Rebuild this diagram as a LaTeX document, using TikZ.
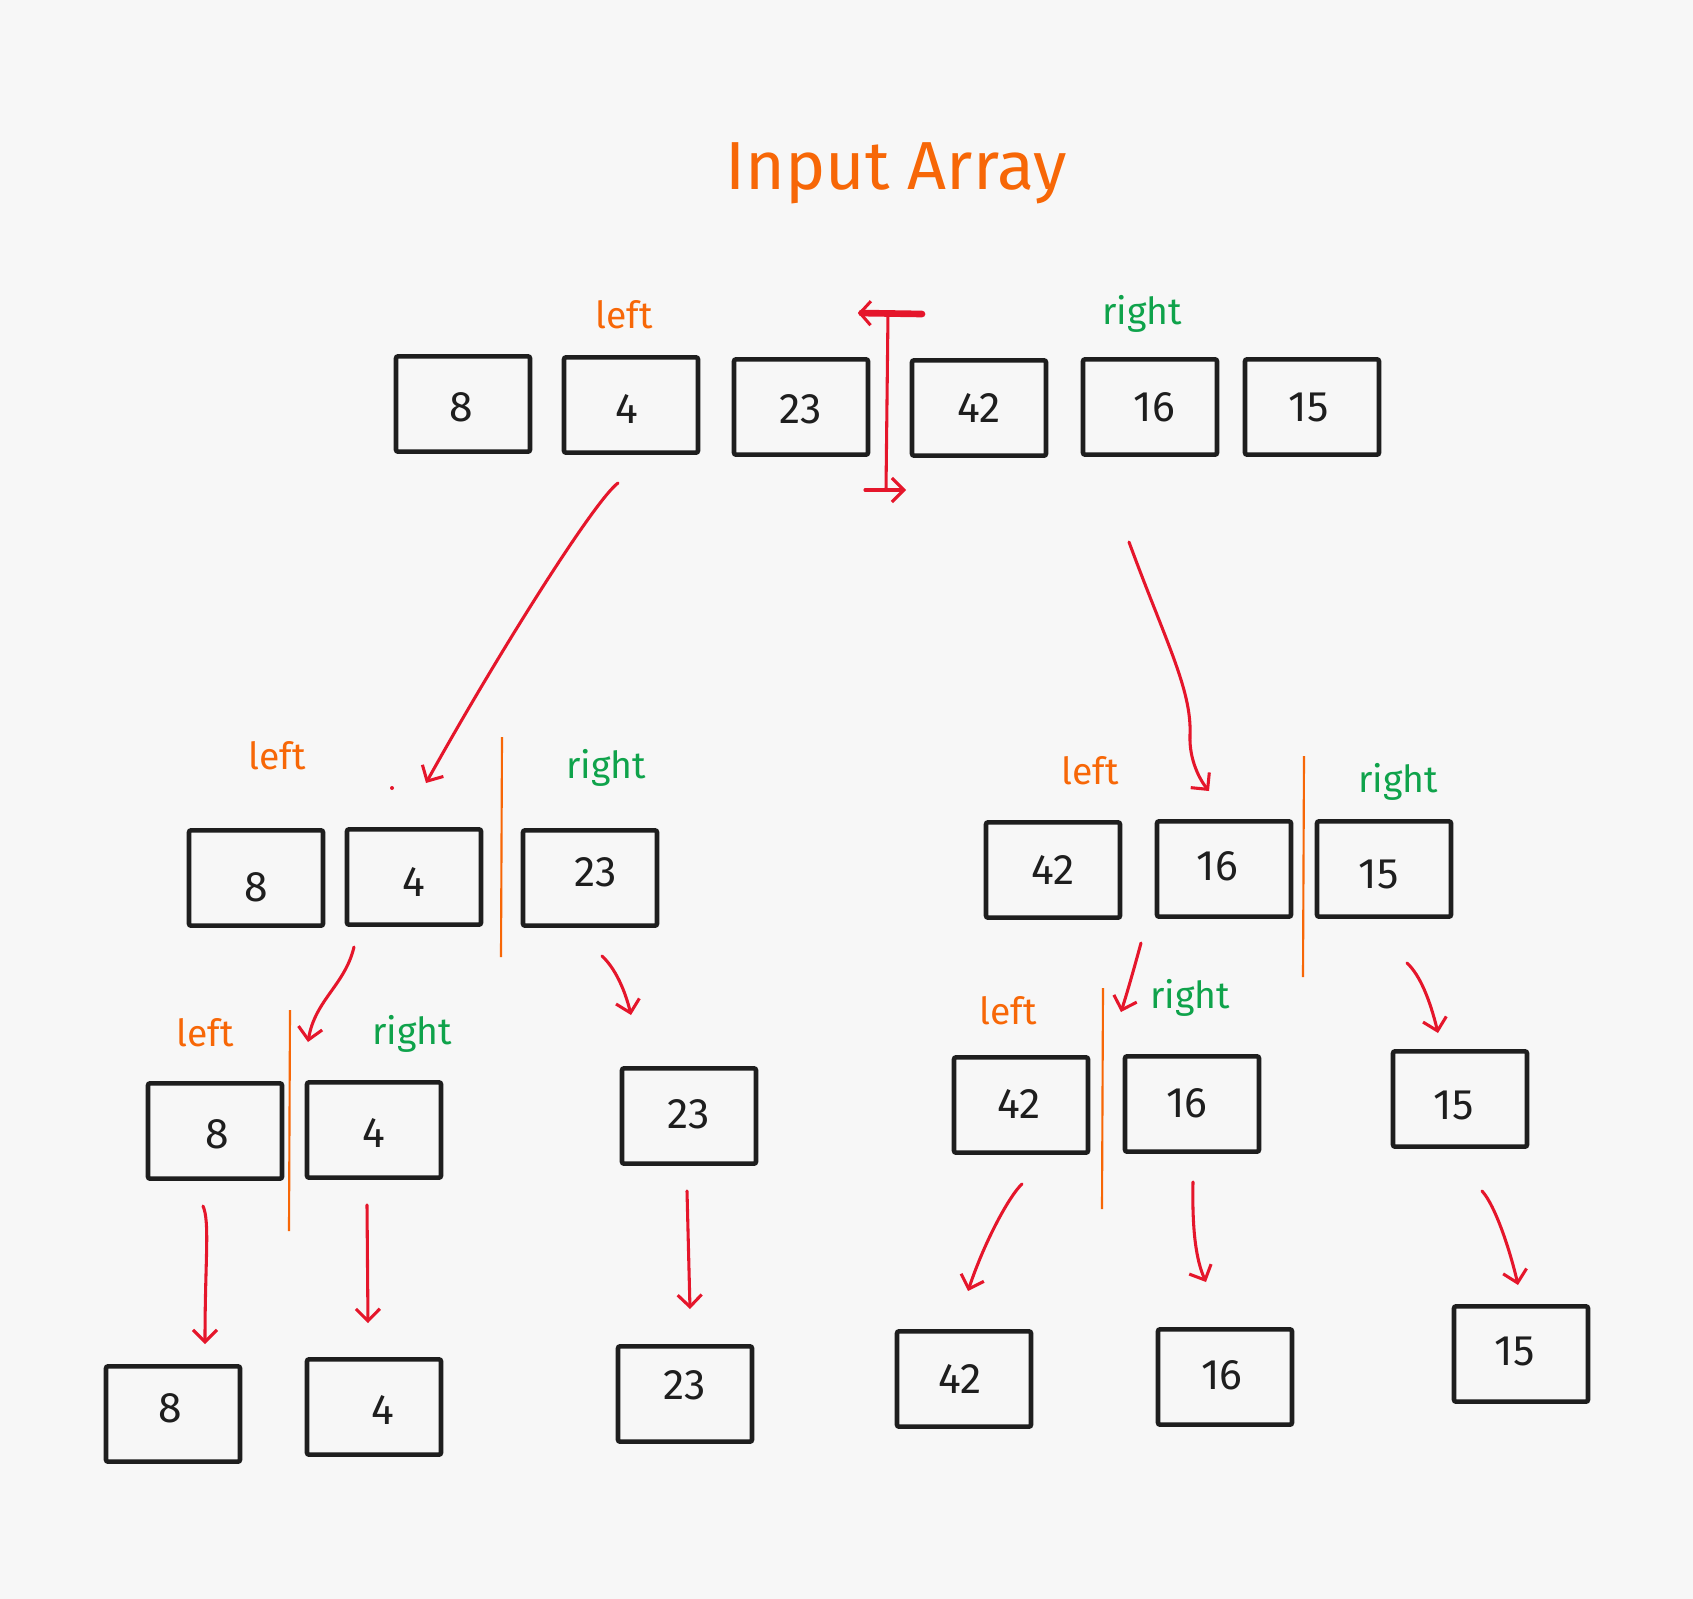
\documentclass[tikz,border=0pt]{standalone}
\usepackage{fontspec}
\setmainfont{Fira Sans}
\usetikzlibrary{arrows.meta}
\definecolor{bg}{HTML}{F7F7F7}
\definecolor{ink}{HTML}{1E1E1E}
\definecolor{orng}{HTML}{F76707}
\definecolor{grn}{HTML}{0FA34B}
\definecolor{rd}{HTML}{E5162B}
\begin{document}
\begin{tikzpicture}[x=0.75pt,y=-0.75pt,
  box/.style={draw=ink,line width=3.4pt,rounded corners=1.5pt,minimum width=100.5pt,minimum height=71.5pt,inner sep=0pt},
  digit/.style={font=\fontsize{32}{36}\selectfont,text=ink,inner sep=0pt},
  num/.style n args={3}{label={[digit,xshift=#2pt,yshift=#3pt]center:#1}},
  lbl/.style={font=\fontsize{28}{32}\selectfont,inner sep=0pt},
  leftlbl/.style={lbl,text=orng},
  rightlbl/.style={lbl,text=grn},
  arr/.style={draw=rd,line width=2.3pt,line cap=round,line join=round,-{Straight Barb[length=9pt,width=18pt]}},
  divider/.style={draw=orng,line width=1.6pt}]
\useasboundingbox (0,0) rectangle (1693,1599);
\fill[bg] (0,0) rectangle (1693,1599);

% title
\node[font=\fontsize{51}{56}\selectfont,text=orng] (title) at (896,173) {Input Array};

% top row
\node[box,num={8}{-1.6}{-2.4}] (t1) at (463,404) {};
\node[box,num={4}{-3.2}{-3.2}] (t2) at (631,405) {};
\node[box,num={23}{0}{-1.6}] (t3) at (801,407) {};
\node[box,num={42}{0}{0}] (t4) at (979,408) {};
\node[box,num={16}{3.2}{0}] (t5) at (1150,407) {};
\node[box,num={15}{-2.4}{0}] (t6) at (1312,407) {};
\node[leftlbl] (tl) at (624,315) {left};
\node[rightlbl] (tr) at (1142,314) {right};

% split marker
\coordinate (mtop) at (888,313);
\coordinate (mbot) at (886,490);
\coordinate (mtl) at (858,313);
\coordinate (mtr) at (922,314);
\coordinate (mbl) at (865,490);
\coordinate (mbr) at (906,490);
\draw[draw=rd,line width=2.3pt,line cap=round] (mtop) -- (mbot);
\draw[draw=rd,line width=5pt,line cap=round,-{Straight Barb[length=8pt,width=18pt,line width=2.3pt]}] (mtr) -- (mtl);
\draw[arr] (mbl) -- (mbr);

% level 2 left
\node[box,num={8}{0}{-7.3}] (a1) at (256,878) {};
\node[box,num={4}{0}{-4}] (a2) at (414,877) {};
\node[box,num={23}{4}{4}] (a3) at (590,878) {};
\node[leftlbl] (al) at (277,756) {left};
\node[rightlbl] (ar) at (606,768) {right};
\draw[divider] (502,737) -- (501,957);
\fill[rd] (392,788) circle (2);

% level 2 right
\node[box,num={42}{0}{0}] (b1) at (1053,870) {};
\node[box,num={16}{-4.9}{2.4}] (b2) at (1224,869) {};
\node[box,num={15}{-4}{-4}] (b3) at (1384,869) {};
\node[leftlbl] (bl) at (1090,771) {left};
\node[rightlbl] (br) at (1398,782) {right};
\draw[divider] (1304,756) -- (1303,977);

% level 3 left
\node[box,num={8}{1.6}{-2.4}] (c1) at (215,1131) {};
\node[box,num={4}{0}{-2.4}] (c2) at (374,1130) {};
\node[box,num={23}{0}{1.6}] (c3) at (689,1116) {};
\node[leftlbl] (cl) at (205,1033) {left};
\node[rightlbl] (cr) at (412,1034) {right};
\draw[divider] (290,1010) -- (289,1231);

% level 3 right
\node[box,num={42}{-1.6}{0.8}] (c4) at (1021,1105) {};
\node[box,num={16}{-4}{0.8}] (c5) at (1192,1104) {};
\node[box,num={15}{-4.9}{-4.9}] (c6) at (1460,1099) {};
\node[leftlbl] (cl2) at (1008,1011) {left};
\node[rightlbl] (cr2) at (1190,998) {right};
\draw[divider] (1103,988) -- (1102,1209);

% bottom row
\node[box,num={8}{-2.4}{4}] (d1) at (173,1414) {};
\node[box,num={4}{6.5}{-2.4}] (d2) at (374,1407) {};
\node[box,num={23}{0}{6.5}] (d3) at (685,1394) {};
\node[box,num={42}{-3.2}{0}] (d4) at (964,1379) {};
\node[box,num={16}{-2.4}{1.6}] (d5) at (1225,1377) {};
\node[box,num={15}{-4.9}{1.6}] (d6) at (1521,1354) {};

% arrow end points
\coordinate (p1s) at (618,483);  \coordinate (p1e) at (426,783);
\coordinate (p2s) at (1129,542); \coordinate (p2e) at (1209,791);
\coordinate (p3s) at (354,947);  \coordinate (p3e) at (308,1042);
\coordinate (p4s) at (602,956);  \coordinate (p4e) at (631,1015);
\coordinate (p5s) at (1141,943); \coordinate (p5e) at (1121,1012);
\coordinate (p6s) at (1407,963); \coordinate (p6e) at (1438,1033);
\coordinate (q1s) at (203,1206); \coordinate (q1e) at (205,1344);
\coordinate (q2s) at (367,1205); \coordinate (q2e) at (368,1323);
\coordinate (q3s) at (687,1191); \coordinate (q3e) at (690,1309);
\coordinate (q4s) at (1022,1184);\coordinate (q4e) at (968,1291);
\coordinate (q5s) at (1193,1182);\coordinate (q5e) at (1206,1282);
\coordinate (q6s) at (1482,1191);\coordinate (q6e) at (1518,1285);

\draw[arr] (p1s) .. controls (595,500) and (500,650) .. (p1e);
\draw[arr] (p2s) .. controls (1165,640) and (1192,690) .. (1190,735) .. controls (1189,760) and (1200,780) .. (p2e);
\draw[arr] (p3s) .. controls (345,985) and (315,1000) .. (p3e);
\draw[arr] (p4s) .. controls (615,968) and (625,990) .. (p4e);
\draw[arr] (p5s) .. controls (1135,965) and (1128,990) .. (p5e);
\draw[arr] (p6s) .. controls (1420,975) and (1430,1000) .. (p6e);
\draw[arr] (q1s) .. controls (210,1222) and (205,1260) .. (q1e);
\draw[arr] (q2s) -- (q2e);
\draw[arr] (q3s) -- (q3e);
\draw[arr] (q4s) .. controls (1010,1195) and (985,1240) .. (q4e);
\draw[arr] (q5s) .. controls (1192,1230) and (1196,1260) .. (q5e);
\draw[arr] (q6s) .. controls (1495,1205) and (1510,1250) .. (q6e);
\end{tikzpicture}
\end{document}
